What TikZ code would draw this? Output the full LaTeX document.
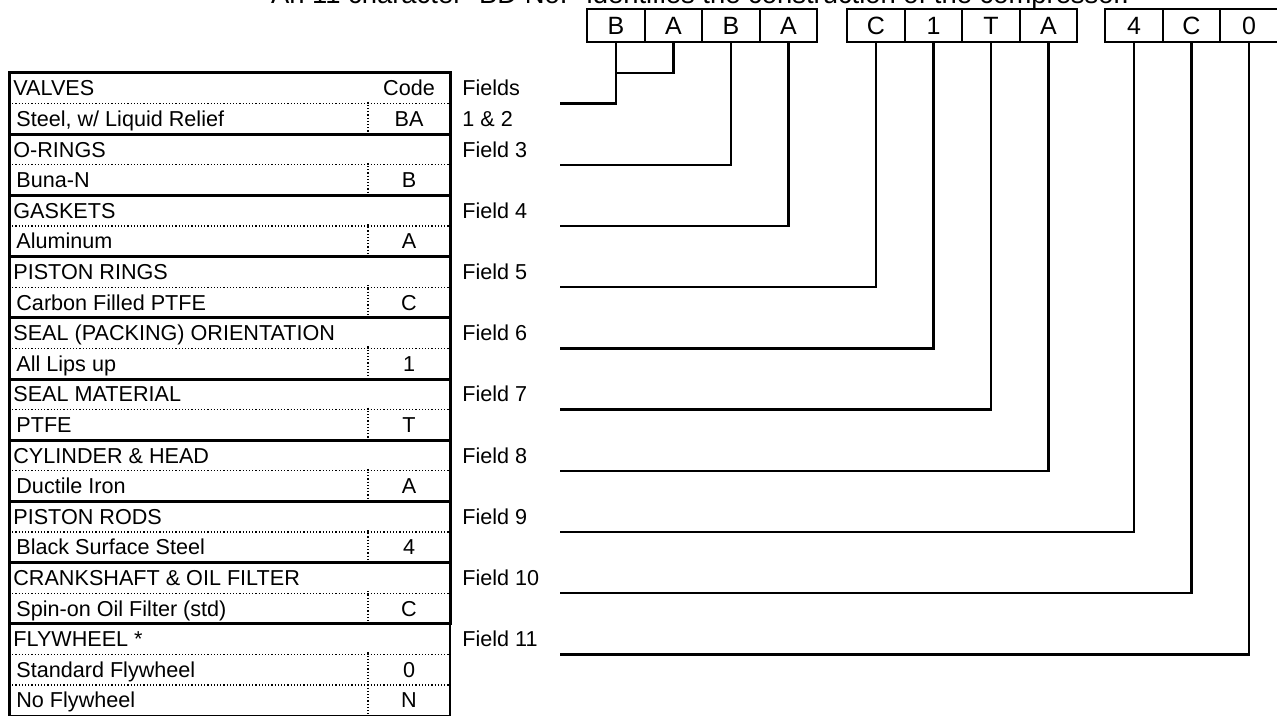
\documentclass[tikz,border=0pt]{standalone}
\usepackage{fontspec}
\setmainfont{Liberation Sans}
\usetikzlibrary{positioning}

\begin{document}
\begin{tikzpicture}[x=0.5pt, y=-0.5pt, node distance={28.75pt},
    cell/.style={draw, line width=1.2pt, minimum width=28.75pt, minimum height=16.5pt, inner sep=0pt, font=\fontsize{12.5}{14}\selectfont},
    row/.style={anchor=base west, inner sep=0pt, font=\fontsize{10.8}{12}\selectfont},
    code/.style={anchor=base, inner sep=0pt, font=\fontsize{10.8}{12}\selectfont},
    wire/.style={line width=1.2pt},
    grp/.style={line width=1.5pt},
    sep/.style={line width=0.6pt, densely dotted}]
\useasboundingbox (0,0) rectangle (1277,717);

\node[anchor=base, inner sep=0pt, font=\fontsize{13.7}{16}\selectfont] (title) at (700,3.5) {An 11 character “BD No.” identifies the construction of the compressor.};

\node[cell] (1) at (616,25.5) {B};
\node[cell] (2) [right of=1] {A};
\node[cell] (3) [right of=2] {B};
\node[cell] (4) [right of=3] {A};
\node[cell] (5) at (876,25.5) {C};
\node[cell] (6) [right of=5] {1};
\node[cell] (7) [right of=6] {T};
\node[cell] (8) [right of=7] {A};
\node[cell] (9) at (1134,25.5) {4};
\node[cell] (10) [right of=9] {C};
\node[cell] (11) [right of=10] {0};

\foreach \k/\head/\item/\code/\fld in {0/VALVES/{Steel, w/ Liquid Relief}/BA/Fields,
    1/O-RINGS/Buna-N/B/Field 3, 2/GASKETS/Aluminum/A/Field 4,
    3/PISTON RINGS/Carbon Filled PTFE/C/Field 5, 4/SEAL (PACKING) ORIENTATION/All Lips up/1/Field 6,
    5/SEAL MATERIAL/PTFE/T/Field 7, 6/CYLINDER \& HEAD/Ductile Iron/A/Field 8,
    7/PISTON RODS/Black Surface Steel/4/Field 9, 8/CRANKSHAFT \& OIL FILTER/Spin-on Oil Filter (std)/C/Field 10} {
  \pgfmathsetmacro\t{73+61.2*\k}
  \draw[grp] (9,\t) rectangle (450,\t+61.2);
  \draw[sep] (9,\t+30.6) -- (450,\t+30.6);
  \draw[sep] (368,\t+28.6) -- (368,\t+61.2);
  \node[row] (h\k) at (13,\t+22.8) {\head};
  \node[row] (i\k) at (16,\t+53.4) {\item};
  \node[code] (c\k) at (409,\t+53.4) {\code};
  \node[row] (f\k) at (462,\t+22.8) {\fld};
}
\node[code] (code) at (409,95.8) {Code};
\node[row] (fields) at (462,126.4) {1 \& 2};

\draw[line width=0.8pt] (9,623.8) rectangle (450,715.6);
\draw[grp] (9,623.8) -- (450,623.8);
\draw[grp] (9,623.8) -- (9,715.6);
\draw[sep] (9,654.4) -- (450,654.4);
\draw[sep] (9,685) -- (450,685);
\draw[sep] (368,652.4) -- (368,715.6);
\node[row] (h9) at (13,646.6) {FLYWHEEL *};
\node[row] (i9) at (16,677.2) {Standard Flywheel};
\node[code] (c9) at (409,677.2) {0};
\node[row] (i10) at (16,707.8) {No Flywheel};
\node[code] (c10) at (409,707.8) {N};
\node[row] (f9) at (462,646.6) {Field 11};

\coordinate (j) at (616,73);
\coordinate (e1) at (560,103.6);
\draw[wire] (2.south) |- (j);
\draw[wire] (1.south) |- (e1);
\foreach \n [evaluate=\n as \y using 103.6+61.2*(\n-2)] in {3,...,11} {
  \coordinate (e\n) at (560,\y);
  \draw[wire] (\n.south) |- (e\n);
}
\end{tikzpicture}
\end{document}
